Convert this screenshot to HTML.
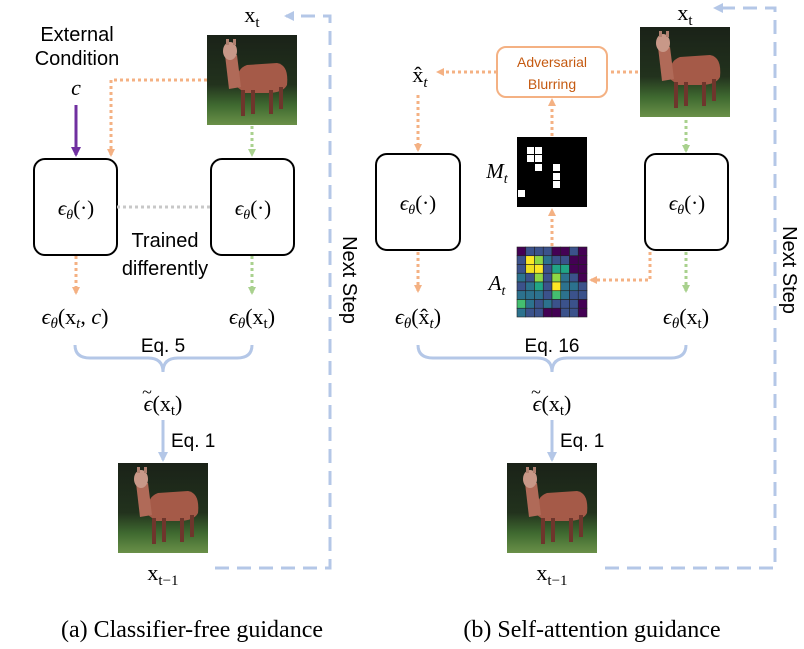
<!DOCTYPE html>
<html><head><meta charset="utf-8"><style>
html,body{margin:0;padding:0;background:#fff}
svg{display:block}
.s{font-family:"Liberation Sans",sans-serif;fill:#000}
.m{font-family:"Liberation Serif",serif;fill:#000}
</style></head><body>
<svg width="804" height="649" viewBox="0 0 804 649" xmlns="http://www.w3.org/2000/svg">
<defs>
<marker id="ao" markerWidth="8" markerHeight="8" refX="6" refY="4" orient="auto" markerUnits="userSpaceOnUse"><path d="M0,0 L8,4 L0,8 z" fill="#f4b183"/></marker>
<marker id="ag" markerWidth="8" markerHeight="8" refX="6" refY="4" orient="auto" markerUnits="userSpaceOnUse"><path d="M0,0 L8,4 L0,8 z" fill="#a9d18e"/></marker>
<marker id="ap" markerWidth="10" markerHeight="10" refX="8" refY="5" orient="auto" markerUnits="userSpaceOnUse"><path d="M0,0 L10,5 L0,10 z" fill="#7030a0"/></marker>
<marker id="ab" markerWidth="10" markerHeight="10" refX="8" refY="5" orient="auto" markerUnits="userSpaceOnUse"><path d="M0,0 L10,5 L0,10 z" fill="#b4c7e7"/></marker>
<linearGradient id="bg" x1="0" y1="0" x2="0" y2="1"><stop offset="0" stop-color="#1a2218"/><stop offset="0.55" stop-color="#22321d"/><stop offset="0.78" stop-color="#3f6a30"/><stop offset="1" stop-color="#6a9048"/></linearGradient>
<g id="llama">
<rect x="0" y="0" width="90" height="90" fill="url(#bg)"/>
<path d="M30,52 Q28,34 40,30 L70,28 Q82,30 80,50 Q76,58 60,58 L38,58 Z" fill="#a55a48"/>
<path d="M18,20 L30,20 L34,52 L22,54 Z" fill="#b06a58"/>
<ellipse cx="23" cy="16" rx="7" ry="9" fill="#c89888"/>
<rect x="19" y="4" width="3" height="6" fill="#b08070"/><rect x="26" y="4" width="3" height="6" fill="#b08070"/>
<rect x="34" y="55" width="4" height="26" fill="#6e362c"/>
<rect x="44" y="55" width="4" height="24" fill="#6e362c"/>
<rect x="62" y="55" width="4" height="24" fill="#6e362c"/>
<rect x="72" y="52" width="4" height="22" fill="#6e362c"/>
</g>
</defs>

<!-- LEFT PANEL -->
<text x="252" y="22" class="m" font-size="22" text-anchor="middle">x<tspan font-size="15" dy="5">t</tspan></text>
<use href="#llama" x="207" y="35"/>
<text x="77" y="41" class="s" font-size="20" text-anchor="middle">External</text>
<text x="77" y="65" class="s" font-size="20" text-anchor="middle">Condition</text>
<text x="76" y="95" class="m" font-size="22" font-style="italic" text-anchor="middle">c</text>
<line x1="76" y1="105" x2="76" y2="155" stroke="#7030a0" stroke-width="3" marker-end="url(#ap)"/>
<polyline points="207,80 111,80 111,155" fill="none" stroke="#f4b183" stroke-width="3" stroke-dasharray="3,3" marker-end="url(#ao)"/>
<line x1="252" y1="126" x2="252" y2="155" stroke="#a9d18e" stroke-width="3" stroke-dasharray="3,3" marker-end="url(#ag)"/>
<rect x="34" y="159" width="83" height="96" rx="11" fill="#fff" stroke="#000" stroke-width="2"/>
<rect x="211" y="159" width="83" height="96" rx="11" fill="#fff" stroke="#000" stroke-width="2"/>
<line x1="117" y1="207" x2="211" y2="207" stroke="#c8c8c8" stroke-width="3" stroke-dasharray="3,3"/>
<text x="76" y="215" class="m" font-size="21" text-anchor="middle" font-style="italic">ϵ<tspan font-size="14" dy="4">θ</tspan><tspan dy="-4" font-style="normal">(·)</tspan></text>
<text x="253" y="215" class="m" font-size="21" text-anchor="middle" font-style="italic">ϵ<tspan font-size="14" dy="4">θ</tspan><tspan dy="-4" font-style="normal">(·)</tspan></text>
<text x="165" y="247" class="s" font-size="20" text-anchor="middle">Trained</text>
<text x="165" y="275" class="s" font-size="20" text-anchor="middle">differently</text>
<line x1="76" y1="256" x2="76" y2="293" stroke="#f4b183" stroke-width="3" stroke-dasharray="3,3" marker-end="url(#ao)"/>
<line x1="252" y1="256" x2="252" y2="293" stroke="#a9d18e" stroke-width="3" stroke-dasharray="3,3" marker-end="url(#ag)"/>
<text x="75" y="324" class="m" font-size="22" text-anchor="middle"><tspan font-style="italic">ϵ</tspan><tspan font-size="15" dy="4" font-style="italic">θ</tspan><tspan dy="-4">(x</tspan><tspan font-size="15" dy="4" font-style="italic">t</tspan><tspan dy="-4">, </tspan><tspan font-style="italic">c</tspan>)</text>
<text x="252" y="324" class="m" font-size="22" text-anchor="middle"><tspan font-style="italic">ϵ</tspan><tspan font-size="15" dy="4" font-style="italic">θ</tspan><tspan dy="-4">(x</tspan><tspan font-size="15" dy="4">t</tspan><tspan dy="-4">)</tspan></text>
<path d="M75,345 Q75,358 90,358 L148,358 Q163,358 163,372 Q163,358 178,358 L237,358 Q252,358 252,345" fill="none" stroke="#b4c7e7" stroke-width="3"/>
<text x="163" y="352" class="s" font-size="19" text-anchor="middle">Eq. 5</text>
<text x="163" y="411" class="m" font-size="22" text-anchor="middle"><tspan font-style="italic">ϵ</tspan>(x<tspan font-size="15" dy="4">t</tspan><tspan dy="-4">)</tspan></text>
<text x="147" y="398" class="m" font-size="18" text-anchor="middle">~</text>
<line x1="163" y1="420" x2="163" y2="460" stroke="#b4c7e7" stroke-width="3" marker-end="url(#ab)"/>
<text x="171" y="447" class="s" font-size="19">Eq. 1</text>
<use href="#llama" x="118" y="463"/>
<text x="163" y="580" class="m" font-size="22" text-anchor="middle">x<tspan font-size="15" dy="5">t−1</tspan></text>
<polyline points="215,568 330,568 330,16 286,16" fill="none" stroke="#b4c7e7" stroke-width="3" stroke-dasharray="14,8" marker-end="url(#ab)"/>
<text transform="translate(343,280) rotate(90)" class="s" font-size="20" text-anchor="middle">Next Step</text>

<!-- RIGHT PANEL -->
<text x="685" y="20" class="m" font-size="22" text-anchor="middle">x<tspan font-size="15" dy="5">t</tspan></text>
<use href="#llama" x="640" y="27"/>
<rect x="497" y="47" width="110" height="50" rx="9" fill="#fff" stroke="#f4b183" stroke-width="2"/>
<text x="552" y="67" class="s" font-size="14" style="fill:#c55a11" text-anchor="middle">Adversarial</text>
<text x="552" y="89" class="s" font-size="14" style="fill:#c55a11" text-anchor="middle">Blurring</text>
<line x1="638" y1="72" x2="607" y2="72" stroke="#f4b183" stroke-width="3" stroke-dasharray="3,3"/>
<line x1="497" y1="72" x2="438" y2="72" stroke="#f4b183" stroke-width="3" stroke-dasharray="3,3" marker-end="url(#ao)"/>
<text x="420" y="82" class="m" font-size="22" text-anchor="middle">x̂<tspan font-size="15" dy="5" font-style="italic">t</tspan></text>
<line x1="418" y1="95" x2="418" y2="150" stroke="#f4b183" stroke-width="3" stroke-dasharray="3,3" marker-end="url(#ao)"/>
<rect x="376" y="154" width="84" height="96" rx="11" fill="#fff" stroke="#000" stroke-width="2"/>
<rect x="645" y="154" width="83" height="96" rx="11" fill="#fff" stroke="#000" stroke-width="2"/>
<text x="418" y="210" class="m" font-size="21" text-anchor="middle" font-style="italic">ϵ<tspan font-size="14" dy="4">θ</tspan><tspan dy="-4" font-style="normal">(·)</tspan></text>
<text x="687" y="210" class="m" font-size="21" text-anchor="middle" font-style="italic">ϵ<tspan font-size="14" dy="4">θ</tspan><tspan dy="-4" font-style="normal">(·)</tspan></text>
<line x1="686" y1="120" x2="686" y2="151" stroke="#a9d18e" stroke-width="3" stroke-dasharray="3,3" marker-end="url(#ag)"/>
<line x1="686" y1="252" x2="686" y2="291" stroke="#a9d18e" stroke-width="3" stroke-dasharray="3,3" marker-end="url(#ag)"/>
<line x1="418" y1="252" x2="418" y2="291" stroke="#f4b183" stroke-width="3" stroke-dasharray="3,3" marker-end="url(#ao)"/>
<polyline points="650,252 650,280 591,280" fill="none" stroke="#f4b183" stroke-width="3" stroke-dasharray="3,3" marker-end="url(#ao)"/>
<line x1="552" y1="246" x2="552" y2="210" stroke="#f4b183" stroke-width="3" stroke-dasharray="3,3" marker-end="url(#ao)"/>
<line x1="552" y1="136" x2="552" y2="100" stroke="#f4b183" stroke-width="3" stroke-dasharray="3,3" marker-end="url(#ao)"/>
<!-- M_t -->
<g transform="translate(517,137)">
<rect width="70" height="70" fill="#000"/>
<g fill="#fff">
<rect x="10" y="10" width="7" height="7"/><rect x="18" y="10" width="7" height="7"/>
<rect x="10" y="18" width="7" height="7"/><rect x="18" y="18" width="7" height="7"/>
<rect x="18" y="27" width="7" height="7"/>
<rect x="36" y="27" width="7" height="7"/><rect x="36" y="36" width="7" height="7"/><rect x="36" y="44" width="7" height="7"/>
<rect x="1" y="53" width="7" height="7"/>
</g>
</g>
<text x="497" y="178" class="m" font-size="21" font-style="italic" text-anchor="middle">M<tspan font-size="14" dy="5">t</tspan></text>
<!-- A_t -->
<g transform="translate(517,247)" stroke="#222" stroke-width="0.6">
<rect x="0" y="0" width="8.75" height="8.75" fill="#440154"/><rect x="8.75" y="0" width="8.75" height="8.75" fill="#3b528b"/><rect x="17.5" y="0" width="8.75" height="8.75" fill="#3b528b"/><rect x="26.25" y="0" width="8.75" height="8.75" fill="#3b528b"/><rect x="35" y="0" width="8.75" height="8.75" fill="#440154"/><rect x="43.75" y="0" width="8.75" height="8.75" fill="#440154"/><rect x="52.5" y="0" width="8.75" height="8.75" fill="#3b528b"/><rect x="61.25" y="0" width="8.75" height="8.75" fill="#440154"/>
<rect x="0" y="8.75" width="8.75" height="8.75" fill="#3b528b"/><rect x="8.75" y="8.75" width="8.75" height="8.75" fill="#fde725"/><rect x="17.5" y="8.75" width="8.75" height="8.75" fill="#8fd744"/><rect x="26.25" y="8.75" width="8.75" height="8.75" fill="#2c728e"/><rect x="35" y="8.75" width="8.75" height="8.75" fill="#3b528b"/><rect x="43.75" y="8.75" width="8.75" height="8.75" fill="#3b528b"/><rect x="52.5" y="8.75" width="8.75" height="8.75" fill="#440154"/><rect x="61.25" y="8.75" width="8.75" height="8.75" fill="#440154"/>
<rect x="0" y="17.5" width="8.75" height="8.75" fill="#3b528b"/><rect x="8.75" y="17.5" width="8.75" height="8.75" fill="#f0e020"/><rect x="17.5" y="17.5" width="8.75" height="8.75" fill="#fde725"/><rect x="26.25" y="17.5" width="8.75" height="8.75" fill="#3b528b"/><rect x="35" y="17.5" width="8.75" height="8.75" fill="#21a585"/><rect x="43.75" y="17.5" width="8.75" height="8.75" fill="#21a585"/><rect x="52.5" y="17.5" width="8.75" height="8.75" fill="#440154"/><rect x="61.25" y="17.5" width="8.75" height="8.75" fill="#440154"/>
<rect x="0" y="26.25" width="8.75" height="8.75" fill="#2c728e"/><rect x="8.75" y="26.25" width="8.75" height="8.75" fill="#3b528b"/><rect x="17.5" y="26.25" width="8.75" height="8.75" fill="#8fd744"/><rect x="26.25" y="26.25" width="8.75" height="8.75" fill="#3b528b"/><rect x="35" y="26.25" width="8.75" height="8.75" fill="#8fd744"/><rect x="43.75" y="26.25" width="8.75" height="8.75" fill="#2c728e"/><rect x="52.5" y="26.25" width="8.75" height="8.75" fill="#3b528b"/><rect x="61.25" y="26.25" width="8.75" height="8.75" fill="#440154"/>
<rect x="0" y="35" width="8.75" height="8.75" fill="#3b528b"/><rect x="8.75" y="35" width="8.75" height="8.75" fill="#2c728e"/><rect x="17.5" y="35" width="8.75" height="8.75" fill="#21a585"/><rect x="26.25" y="35" width="8.75" height="8.75" fill="#3b528b"/><rect x="35" y="35" width="8.75" height="8.75" fill="#fde725"/><rect x="43.75" y="35" width="8.75" height="8.75" fill="#2c728e"/><rect x="52.5" y="35" width="8.75" height="8.75" fill="#2c728e"/><rect x="61.25" y="35" width="8.75" height="8.75" fill="#3b528b"/>
<rect x="0" y="43.75" width="8.75" height="8.75" fill="#2c728e"/><rect x="8.75" y="43.75" width="8.75" height="8.75" fill="#2c728e"/><rect x="17.5" y="43.75" width="8.75" height="8.75" fill="#2c728e"/><rect x="26.25" y="43.75" width="8.75" height="8.75" fill="#3b528b"/><rect x="35" y="43.75" width="8.75" height="8.75" fill="#44bf70"/><rect x="43.75" y="43.75" width="8.75" height="8.75" fill="#2c728e"/><rect x="52.5" y="43.75" width="8.75" height="8.75" fill="#3b528b"/><rect x="61.25" y="43.75" width="8.75" height="8.75" fill="#3b528b"/>
<rect x="0" y="52.5" width="8.75" height="8.75" fill="#44bf70"/><rect x="8.75" y="52.5" width="8.75" height="8.75" fill="#2c728e"/><rect x="17.5" y="52.5" width="8.75" height="8.75" fill="#3b528b"/><rect x="26.25" y="52.5" width="8.75" height="8.75" fill="#2c728e"/><rect x="35" y="52.5" width="8.75" height="8.75" fill="#3b528b"/><rect x="43.75" y="52.5" width="8.75" height="8.75" fill="#3b528b"/><rect x="52.5" y="52.5" width="8.75" height="8.75" fill="#3b528b"/><rect x="61.25" y="52.5" width="8.75" height="8.75" fill="#440154"/>
<rect x="0" y="61.25" width="8.75" height="8.75" fill="#2c728e"/><rect x="8.75" y="61.25" width="8.75" height="8.75" fill="#3b528b"/><rect x="17.5" y="61.25" width="8.75" height="8.75" fill="#3b528b"/><rect x="26.25" y="61.25" width="8.75" height="8.75" fill="#440154"/><rect x="35" y="61.25" width="8.75" height="8.75" fill="#440154"/><rect x="43.75" y="61.25" width="8.75" height="8.75" fill="#3b528b"/><rect x="52.5" y="61.25" width="8.75" height="8.75" fill="#3b528b"/><rect x="61.25" y="61.25" width="8.75" height="8.75" fill="#440154"/>
</g>
<text x="497" y="290" class="m" font-size="21" font-style="italic" text-anchor="middle">A<tspan font-size="14" dy="5">t</tspan></text>
<text x="418" y="324" class="m" font-size="22" text-anchor="middle"><tspan font-style="italic">ϵ</tspan><tspan font-size="15" dy="4" font-style="italic">θ</tspan><tspan dy="-4">(x̂</tspan><tspan font-size="15" dy="4" font-style="italic">t</tspan><tspan dy="-4">)</tspan></text>
<text x="686" y="324" class="m" font-size="22" text-anchor="middle"><tspan font-style="italic">ϵ</tspan><tspan font-size="15" dy="4" font-style="italic">θ</tspan><tspan dy="-4">(x</tspan><tspan font-size="15" dy="4">t</tspan><tspan dy="-4">)</tspan></text>
<path d="M418,345 Q418,358 433,358 L537,358 Q552,358 552,372 Q552,358 567,358 L671,358 Q686,358 686,345" fill="none" stroke="#b4c7e7" stroke-width="3"/>
<text x="552" y="352" class="s" font-size="19" text-anchor="middle">Eq. 16</text>
<text x="552" y="411" class="m" font-size="22" text-anchor="middle"><tspan font-style="italic">ϵ</tspan>(x<tspan font-size="15" dy="4">t</tspan><tspan dy="-4">)</tspan></text>
<text x="536" y="398" class="m" font-size="18" text-anchor="middle">~</text>
<line x1="552" y1="420" x2="552" y2="460" stroke="#b4c7e7" stroke-width="3" marker-end="url(#ab)"/>
<text x="560" y="447" class="s" font-size="19">Eq. 1</text>
<use href="#llama" x="507" y="463"/>
<text x="552" y="580" class="m" font-size="22" text-anchor="middle">x<tspan font-size="15" dy="5">t−1</tspan></text>
<polyline points="605,568 775,568 775,8 715,8" fill="none" stroke="#b4c7e7" stroke-width="3" stroke-dasharray="14,8" marker-end="url(#ab)"/>
<text transform="translate(783,270) rotate(90)" class="s" font-size="20" text-anchor="middle">Next Step</text>

<text x="192" y="637" class="m" font-size="24" text-anchor="middle">(a) Classifier-free guidance</text>
<text x="592" y="637" class="m" font-size="24" text-anchor="middle">(b) Self-attention guidance</text>
</svg>
</body></html>
